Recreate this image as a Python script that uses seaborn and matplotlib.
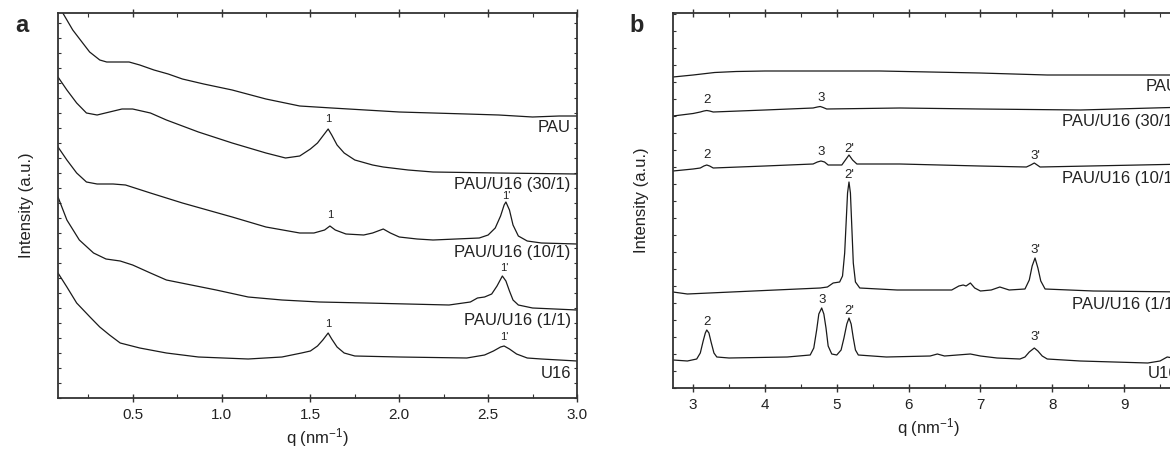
import pandas as pd
import matplotlib
matplotlib.use("Agg")
import matplotlib.pyplot as plt
from matplotlib.ticker import MultipleLocator
import seaborn as sns

# ---- panel a: q (nm^-1) and intensity (a.u., offset for stacking) ----
a_pau_q = [0.08, 0.107, 0.163, 0.219, 0.258, 0.315, 0.354, 0.40, 0.48, 0.54, 0.62, 0.70, 0.78, 0.90,
           1.06, 1.25, 1.44, 1.62, 1.81, 2.0, 2.19, 2.38, 2.56, 2.75, 2.9, 3.0]
a_pau_i = [404, 385, 368, 355, 346, 338, 336, 336, 336, 333, 328, 324, 319, 314,
           308, 299, 292, 290, 288, 286, 285, 284, 283, 281, 282, 282]

a_30_q = [0.08, 0.13, 0.185, 0.24, 0.30, 0.37, 0.44, 0.50, 0.60, 0.69, 0.87, 1.06, 1.25, 1.36, 1.44,
          1.50, 1.54, 1.57, 1.60, 1.62, 1.65, 1.69, 1.75, 1.85, 1.91, 2.05, 2.19, 2.56, 3.0]
a_30_i = [321, 308, 295, 285, 283, 286, 289, 289, 285, 278, 266, 255, 245, 240, 242,
          249, 255, 262, 269, 263, 253, 245, 238, 233, 231, 228, 226, 225, 224]

a_10_q = [0.08, 0.13, 0.185, 0.24, 0.30, 0.39, 0.46, 0.60, 0.78, 1.06, 1.25, 1.44, 1.52, 1.58, 1.61,
          1.64, 1.70, 1.80, 1.85, 1.91, 1.95, 2.0, 2.1, 2.19, 2.45, 2.50, 2.54, 2.57, 2.59, 2.60,
          2.62, 2.64, 2.67, 2.72, 2.8, 3.0]
a_10_i = [251, 238, 225, 216, 214, 214, 213, 205, 195, 181, 171, 165, 165, 168, 172,
          168, 164, 163, 165, 169, 165, 161, 159, 158, 160, 163, 170, 182, 193, 196,
          188, 173, 162, 157, 155, 154]

a_11_q = [0.08, 0.13, 0.20, 0.28, 0.35, 0.43, 0.50, 0.60, 0.69, 0.97, 1.15, 1.34, 1.55, 1.81, 2.28,
          2.40, 2.44, 2.48, 2.52, 2.55, 2.58, 2.60, 2.62, 2.64, 2.67, 2.75, 3.0]
a_11_i = [201, 178, 158, 145, 139, 137, 133, 125, 118, 108, 101, 98, 96, 95, 93,
          96, 100, 101, 104, 112, 122, 117, 107, 98, 93, 90, 88]

a_u16_q = [0.08, 0.13, 0.185, 0.26, 0.315, 0.37, 0.43, 0.54, 0.69, 0.87, 1.15, 1.34, 1.45, 1.50,
           1.54, 1.57, 1.60, 1.62, 1.65, 1.69, 1.75, 2.0, 2.38, 2.48, 2.53, 2.57, 2.59, 2.62, 2.66,
           2.72, 2.8, 3.0]
a_u16_i = [125, 111, 95, 81, 71, 63, 55, 50, 45, 41, 39, 41, 45, 47,
           52, 58, 65, 59, 51, 45, 42, 41, 40, 43, 47, 51, 52, 49, 44,
           40, 39, 37]

a_names = ["PAU", "PAU/U16 (30/1)", "PAU/U16 (10/1)", "PAU/U16 (1/1)", "U16"]
a_name_y = [270, 214, 146, 77, 25]
a_peak_txt = ["1", "1", "1'", "1'", "1", "1'"]
a_peak_q = [1.60, 1.61, 2.60, 2.59, 1.60, 2.59]
a_peak_i = [279, 183, 202, 130, 74, 61]

# ---- panel b ----
b_pau_q = [2.72, 3.0, 3.3, 3.6, 4.0, 4.77, 5.6, 6.3, 6.99, 7.93, 9.9]
b_pau_i = [311, 313, 315.5, 316.5, 317, 317, 317, 316, 315, 313, 313]

b_30_q = [2.72, 3.0, 3.10, 3.15, 3.19, 3.23, 3.28, 4.0, 4.67, 4.73, 4.77, 4.81, 4.86, 5.88, 6.99, 8.39, 9.9]
b_30_i = [272, 274.5, 276, 277, 277.5, 277, 276, 278, 280, 281, 281.5, 280.5, 279, 280, 279, 278, 281]

b_10_q = [2.72, 3.0, 3.10, 3.15, 3.19, 3.23, 3.28, 4.0, 4.67, 4.73, 4.78, 4.83, 4.88, 5.07, 5.12,
          5.17, 5.22, 5.28, 5.88, 6.99, 7.64, 7.70, 7.75, 7.79, 7.83, 9.9]
b_10_i = [217, 219, 220, 222, 223, 222, 220, 222, 224, 226, 227, 226, 223, 223, 228,
          233, 228, 224, 224, 222, 221, 223, 225, 223, 221, 224]

b_11_q = [2.72, 2.92, 3.84, 4.77, 4.87, 4.95, 5.04, 5.08, 5.11, 5.13, 5.15, 5.17, 5.19, 5.21, 5.23,
          5.26, 5.32, 5.84, 6.6, 6.7, 6.76, 6.80, 6.86, 6.92, 7.0, 7.15, 7.27, 7.40, 7.62, 7.68,
          7.72, 7.76, 7.80, 7.84, 7.90, 8.57, 9.9]
b_11_i = [96, 94, 97, 100, 101, 105, 106, 112, 135, 165, 195, 206, 195, 160, 125,
          106, 100, 98, 98, 102, 103, 102, 105, 100, 97, 98, 101, 98, 99, 108,
          122, 130, 120, 107, 99, 97, 96]

b_u16_q = [2.72, 2.92, 3.05, 3.10, 3.14, 3.17, 3.19, 3.22, 3.25, 3.29, 3.33, 3.5, 4.31, 4.63, 4.68,
           4.72, 4.75, 4.79, 4.82, 4.85, 4.88, 4.93, 5.00, 5.06, 5.10, 5.14, 5.17, 5.20, 5.23, 5.26,
           5.30, 5.69, 6.3, 6.4, 6.5, 6.86, 7.0, 7.23, 7.55, 7.62, 7.68, 7.75, 7.80, 7.86, 7.93,
           8.39, 9.33, 9.50, 9.60, 9.68, 9.75, 9.9]
b_u16_i = [28, 27, 29, 35, 47, 55, 58, 55, 46, 35, 31, 30, 31, 33, 40,
           58, 74, 80, 74, 60, 42, 34, 33, 38, 50, 64, 70, 64, 50, 38,
           33, 31, 32, 34, 32, 34, 32, 30, 29, 31, 36, 40, 37, 32, 29,
           27, 25, 27, 31, 30, 27, 26]

b_names = ["PAU", "PAU/U16 (30/1)", "PAU/U16 (10/1)", "PAU/U16 (1/1)", "U16"]
b_name_y = [301, 266, 209, 83, 15]
b_peak_txt = ["2", "3", "2", "3", "2'", "3'", "2'", "3'", "2", "3", "2'", "3'"]
b_peak_q = [3.19, 4.78, 3.19, 4.78, 5.17, 7.76, 5.17, 7.76, 3.19, 4.80, 5.17, 7.76]
b_peak_i = [288, 290, 233, 236, 239, 232, 213, 138, 66, 88, 77, 51]

sns.set_theme(style="ticks")
plt.rcParams["font.family"] = ["Liberation Sans", "DejaVu Sans"]
plt.rcParams["mathtext.fontset"] = "custom"
plt.rcParams["mathtext.rm"] = "Liberation Sans"
plt.rcParams["mathtext.it"] = "Liberation Sans"

fig = plt.figure(figsize=(11.7, 4.49), dpi=100)
ax_a = fig.add_axes([58 / 1170, 51 / 449, 519 / 1170, 385 / 449])
ax_b = fig.add_axes([673 / 1170, 61 / 449, 510 / 1170, 375 / 449])

line_col = "#1a1a1a"
spine_col = "#333333"

a_curves = [(a_pau_q, a_pau_i), (a_30_q, a_30_i), (a_10_q, a_10_i), (a_11_q, a_11_i), (a_u16_q, a_u16_i)]
b_curves = [(b_pau_q, b_pau_i), (b_30_q, b_30_i), (b_10_q, b_10_i), (b_11_q, b_11_i), (b_u16_q, b_u16_i)]

for ax, curves in [(ax_a, a_curves), (ax_b, b_curves)]:
    for q, i in curves:
        df = pd.DataFrame({"q": q, "I": i})
        sns.lineplot(data=df, x="q", y="I", ax=ax, color=line_col, lw=0.9,
                     sort=False, estimator=None)

ax_a.set_xlim(0.08, 3.0)
ax_a.set_ylim(0, 385)
ax_b.set_xlim(2.72, 9.82)
ax_b.set_ylim(0, 375)

for ax, ystep in [(ax_a, 15), (ax_b, 17)]:
    for s in ax.spines.values():
        s.set_visible(True)
        s.set_color(spine_col)
        s.set_linewidth(1.3)
    ax.yaxis.set_major_locator(MultipleLocator(ystep))
    ax.set_yticklabels([])
    ax.tick_params(axis="y", which="major", direction="in", length=2.5, width=0.8,
                   color=spine_col, left=True, right=True)
    ax.tick_params(axis="x", which="major", direction="inout", length=6, width=1,
                   color=spine_col, labelsize=11, labelcolor="#222222", pad=4,
                   top=True)
    ax.tick_params(axis="x", which="minor", direction="in", length=3, width=0.8,
                   color=spine_col, top=True)
    ax.set_ylabel("Intensity (a.u.)", fontsize=12, color="#222222", labelpad=14)
    ax.set_xlabel("q (nm$^{-1}$)", fontsize=12, color="#222222", labelpad=3)

ax_a.xaxis.set_major_locator(MultipleLocator(0.5))
ax_a.xaxis.set_minor_locator(MultipleLocator(0.25))
ax_b.xaxis.set_major_locator(MultipleLocator(1))
ax_b.xaxis.set_minor_locator(MultipleLocator(0.5))

for name, y in zip(a_names, a_name_y):
    ax_a.text(2.965, y, name, ha="right", va="center", fontsize=12, color="#222222")
for t, q, i in zip(a_peak_txt, a_peak_q, a_peak_i):
    ax_a.text(q, i, t, ha="center", va="center", fontsize=8, color="#222222")

for name, y in zip(b_names, b_name_y):
    ax_b.text(9.76, y, name, ha="right", va="center", fontsize=12, color="#222222", clip_on=False)
for t, q, i in zip(b_peak_txt, b_peak_q, b_peak_i):
    ax_b.text(q, i, t, ha="center", va="center", fontsize=9.5, color="#222222")

fig.text(22 / 1170, 1 - 25 / 449, "a", fontsize=17, fontweight="bold", ha="center", va="center")
fig.text(637 / 1170, 1 - 25 / 449, "b", fontsize=17, fontweight="bold", ha="center", va="center")

fig.savefig("out.png", dpi=100)
